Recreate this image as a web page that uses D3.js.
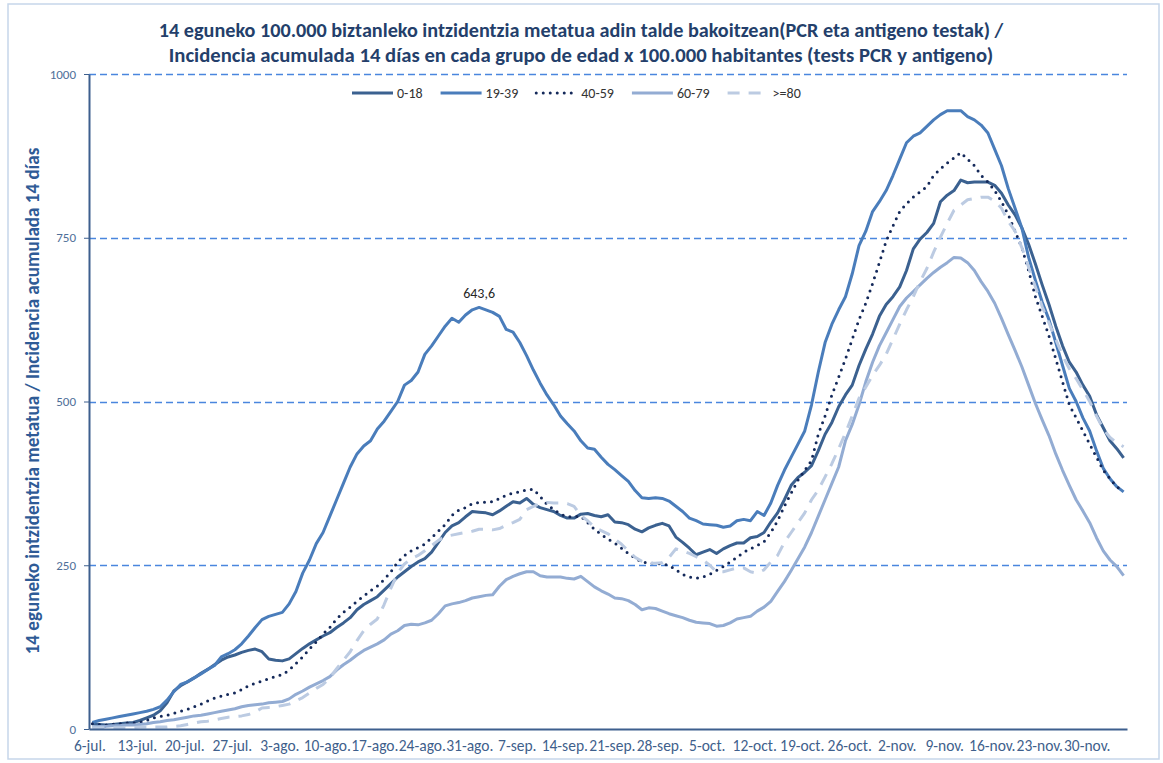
<!doctype html>
<html>
<head>
<meta charset="utf-8">
<title>intzidentzia metatua adin taldeka</title>
<script src="https://d3js.org/d3.v7.min.js"></script>
<style>
  body { margin: 0; background: #fff; }
  text { font-family: Calibri, Carlito, Lato, sans-serif; }
</style>
</head>
<body>
<svg></svg>
<script>

var w = 1163,
    h = 763;

var plot = { left: 89, right: 1127, top: 74, bottom: 729 };

// one point per day, 6 July 2020 .. 5 Dec 2020
var days = d3.timeDay.range(new Date(2020, 6, 6), new Date(2020, 11, 6));

var tickLabels = ['6-jul.', '13-jul.', '20-jul.', '27-jul.', '3-ago.', '10-ago.', '17-ago.',
    '24-ago.', '31-ago.', '7-sep.', '14-sep.', '21-sep.', '28-sep.', '5-oct.', '12-oct.',
    '19-oct.', '26-oct.', '2-nov.', '9-nov.', '16-nov.', '23-nov.', '30-nov.'];

var yTicks = [0, 250, 500, 750, 1000];

var age0_18 = [
    8, 7, 6, 7, 8, 9, 10, 13, 17, 21,
    28, 40, 58, 66, 72, 78, 85, 91, 98, 105,
    110, 113, 117, 120, 122, 118, 107, 105, 104, 107,
    115, 123, 130, 136, 142, 147, 155, 162, 170, 182,
    190, 196, 202, 212, 222, 232, 240, 248, 255, 260,
    270, 285, 300, 310, 315, 324, 332, 331, 330, 327,
    333, 340, 347, 345, 352, 343, 338, 335, 332, 326,
    322, 322, 328, 329, 326, 324, 327, 316, 315, 312,
    305, 301, 307, 311, 314, 310, 293, 285, 276, 266,
    270, 274, 268, 275, 280, 284, 284, 292, 294, 300,
    316, 330, 350, 372, 384, 392, 402, 425, 450, 468,
    492, 510, 525, 555, 580, 603, 630, 648, 660, 675,
    700, 733, 748, 758, 772, 805, 815, 822, 838, 834,
    835, 835, 835, 830, 818, 800, 785, 765, 740, 710,
    678, 648, 615, 585, 560, 545, 525, 508, 480, 460,
    440, 428, 414];

var age19_39 = [
    10, 13, 15, 17, 19, 21, 23, 25, 27, 30,
    34, 44, 57, 68, 72, 78, 84, 91, 97, 110,
    115, 121, 130, 142, 155, 167, 172, 175, 178, 191,
    210, 238, 258, 283, 300, 325, 350, 375, 400, 420,
    432, 440, 458, 470, 485, 500, 525, 532, 545, 572,
    585, 600, 615, 627, 621, 632, 640, 643.6, 640, 636,
    630, 610, 606, 590, 570, 548, 528, 510, 495, 478,
    466, 455, 440, 429, 427, 415, 404, 396, 387, 378,
    364, 353, 352, 353, 352, 348, 340, 332, 322, 318,
    313, 312, 311, 308, 310, 318, 320, 318, 332, 326,
    345, 372, 395, 415, 435, 455, 495, 545, 590, 618,
    640, 660, 695, 738, 760, 790, 805, 822, 845, 870,
    895, 905, 910, 920, 930, 938, 944, 944, 944, 935,
    930, 922, 910, 885, 860, 825, 795, 765, 720, 685,
    652, 625, 590, 555, 520, 500, 475, 455, 425, 398,
    382, 370, 362];

var age40_59 = [
    8, 7, 6, 7, 8, 9, 9, 10, 13, 17,
    19, 21, 24, 27, 30, 34, 38, 43, 47, 50,
    53, 55, 60, 66, 70, 73, 77, 80, 83, 90,
    100, 110, 122, 133, 145, 155, 168, 178, 186, 195,
    203, 211, 218, 228, 240, 255, 265, 272, 277, 282,
    292, 302, 312, 326, 334, 338, 344, 346, 346, 347,
    352, 357, 360, 362, 365, 366, 355, 343, 335, 328,
    324, 324, 325, 315, 305, 297, 290, 284, 276, 268,
    261, 255, 253, 253, 252, 250, 243, 236, 232, 230,
    232, 236, 242, 248, 255, 262, 270, 275, 280, 286,
    300, 318, 340, 360, 380, 395, 410, 450, 478, 510,
    537, 565, 595, 625, 650, 680, 712, 745, 768, 790,
    802, 812, 820, 828, 845, 855, 864, 872, 880, 870,
    860, 845, 835, 822, 805, 785, 760, 735, 700, 660,
    630, 600, 565, 530, 495, 475, 455, 435, 415, 395,
    382, 370, 362];

var age60_79 = [
    3, 4, 4, 5, 5, 6, 6, 7, 8, 10,
    11, 13, 14, 16, 18, 20, 21, 23, 25, 27,
    29, 31, 34, 36, 37, 38, 40, 41, 42, 46,
    53, 58, 64, 69, 74, 80, 90, 98, 105, 113,
    120, 125, 130, 136, 145, 150, 158, 160, 159, 162,
    166, 176, 188, 191, 193, 196, 200, 202, 204, 205,
    218, 228, 233, 237, 240, 240, 234, 232, 232, 232,
    230, 229, 233, 225, 217, 211, 206, 200, 199, 196,
    190, 182, 185, 184, 180, 176, 173, 170, 166, 163,
    162, 161, 157, 158, 162, 168, 170, 172, 180, 186,
    195, 210, 225, 242, 260, 278, 300, 325, 350, 375,
    400, 440, 465, 495, 530, 560, 585, 605, 625, 645,
    658, 668, 678, 688, 697, 705, 712, 720, 719, 712,
    700, 683, 668, 650, 627, 602, 578, 553, 525, 497,
    472, 448, 420, 395, 372, 350, 333, 315, 292, 272,
    258, 248, 234];

var age80 = [
    2, 2, 2, 2, 2, 2, 2, 3, 3, 3,
    3, 3, 4, 5, 7, 9, 11, 12, 14, 16,
    18, 19, 20, 22, 26, 32, 33, 34, 36, 38,
    43, 48, 55, 62, 68, 78, 92, 105, 118, 135,
    150, 160, 168, 190, 215, 238, 252, 260, 265, 272,
    280, 288, 294, 296, 298, 300, 302, 305, 305, 304,
    306, 311, 315, 320, 335, 340, 344, 346, 345, 345,
    344, 340, 326, 318, 308, 303, 298, 290, 282, 272,
    262, 256, 253, 253, 254, 262, 275, 272, 268, 263,
    258, 250, 240, 240, 243, 246, 246, 240, 238, 243,
    255, 265, 285, 300, 315, 330, 350, 365, 385, 405,
    428, 452, 478, 505, 522, 540, 555, 572, 595, 618,
    640, 660, 683, 703, 728, 751, 772, 792, 800, 808,
    810, 812, 812, 806, 795, 775, 760, 735, 705, 675,
    645, 620, 595, 570, 550, 535, 518, 500, 478, 458,
    445, 437, 431];

var seriesNames = ['0-18', '19-39', '40-59', '60-79', '>=80'];
var seriesValues = [age0_18, age19_39, age40_59, age60_79, age80];

var styles = [
    { color: '#3b6190', dash: null },
    { color: '#4a7dbb', dash: null },
    { color: '#14295a', dash: '0,7' },
    { color: '#93acd3', dash: null },
    { color: '#bccbe2', dash: '12,9' }
];

var xScale = d3.scalePoint()
    .domain(d3.range(days.length))
    .range([plot.left, plot.right])
    .padding(0.5);

var yScale = d3.scaleLinear()
    .domain([0, 1000])
    .range([plot.bottom, plot.top]);

var svg = d3.select('svg')
    .attr('width', w)
    .attr('height', h);

// outer chart border
svg.append('rect')
    .attr('x', 8).attr('y', 4)
    .attr('width', 1151).attr('height', 755)
    .attr('fill', 'none')
    .attr('stroke', '#c6d6ea')
    .attr('stroke-width', 1.5);

// horizontal dashed gridlines
svg.append('g')
    .selectAll('line')
    .data(yTicks.filter(function(d) { return d > 0; }))
    .enter()
    .append('line')
    .attr('x1', plot.left)
    .attr('x2', plot.right)
    .attr('y1', function(d) { return Math.round(yScale(d)) + 0.5; })
    .attr('y2', function(d) { return Math.round(yScale(d)) + 0.5; })
    .attr('stroke', '#4a86de')
    .attr('stroke-width', 1.3)
    .attr('stroke-dasharray', '7,4');

// series
var line = d3.line()
    .x(function(d, i) { return xScale(i); })
    .y(function(d) { return yScale(d); });

svg.append('g')
    .selectAll('path')
    .data(seriesValues)
    .enter()
    .append('path')
    .attr('d', line)
    .attr('fill', 'none')
    .attr('stroke', function(d, i) { return styles[i].color; })
    .attr('stroke-width', 3)
    .attr('stroke-linejoin', 'round')
    .attr('stroke-linecap', function(d, i) { return styles[i].dash === '0,7' ? 'round' : 'butt'; })
    .attr('stroke-dasharray', function(d, i) { return styles[i].dash; });

// axes
var yAxis = d3.axisLeft(yScale)
    .tickValues(yTicks)
    .tickFormat(d3.format('d'))
    .tickSize(5)
    .tickSizeOuter(0)
    .tickPadding(8);

var gy = svg.append('g')
    .attr('transform', 'translate(' + plot.left + ',0)')
    .call(yAxis);
gy.select('.domain').attr('stroke', '#3d5f8e').attr('stroke-width', 2);
gy.selectAll('.tick line').attr('stroke', '#3d5f8e');
gy.selectAll('.tick text')
    .attr('fill', '#4f6f99')
    .attr('font-size', 13)
    .style('font-family', 'Calibri, Carlito, Lato, sans-serif');

var xAxis = d3.axisBottom(xScale)
    .tickValues(d3.range(0, tickLabels.length * 7, 7))
    .tickFormat(function(d) { return tickLabels[d / 7]; })
    .tickSize(0)
    .tickSizeOuter(0)
    .tickPadding(11);

var gx = svg.append('g')
    .attr('transform', 'translate(0,' + plot.bottom + ')')
    .call(xAxis);
gx.select('.domain').attr('stroke', '#3d5f8e').attr('stroke-width', 2);
gx.selectAll('.tick text')
    .attr('fill', '#3f5f8c')
    .attr('font-size', 15.5)
    .attr('dx', -3)
    .style('font-family', 'Calibri, Carlito, Lato, sans-serif');

// label on the first-wave peak of 19-39
var peakIndex = d3.maxIndex(age19_39.slice(0, 100));
svg.append('text')
    .attr('x', xScale(peakIndex))
    .attr('y', yScale(age19_39[peakIndex]) - 9)
    .attr('text-anchor', 'middle')
    .attr('font-size', 14)
    .attr('fill', '#262626')
    .text(String(age19_39[peakIndex]).replace('.', ','));

function fitWidth(sel, width) {
    var len = sel.node().getComputedTextLength();
    var fs = parseFloat(sel.attr('font-size'));
    sel.attr('font-size', fs * width / len);
}

// title
var title1 = svg.append('text')
    .attr('x', 581).attr('y', 37)
    .attr('text-anchor', 'middle')
    .attr('font-size', 17)
    .attr('font-weight', 'bold')
    .attr('fill', '#243f6b')
    .text('14 eguneko 100.000 biztanleko intzidentzia metatua adin talde bakoitzean(PCR eta antigeno testak) /');
fitWidth(title1, 845);

var title2 = svg.append('text')
    .attr('x', 581).attr('y', 62)
    .attr('text-anchor', 'middle')
    .attr('font-size', 17)
    .attr('font-weight', 'bold')
    .attr('fill', '#243f6b')
    .text('Incidencia acumulada 14 días en cada grupo de edad x 100.000 habitantes (tests PCR y antigeno)');
fitWidth(title2, 825);

// y axis title
var ytitle = svg.append('text')
    .attr('transform', 'translate(39,401) rotate(-90)')
    .attr('text-anchor', 'middle')
    .attr('font-size', 16)
    .attr('font-weight', 'bold')
    .attr('fill', '#2f5b96')
    .text('14 eguneko intzidentzia metatua / Incidencia acumulada 14 días');
fitWidth(ytitle, 507);

// legend
var legend = svg.append('g')
    .attr('class', 'legend')
    .attr('transform', 'translate(352,93)');

var lx = 0;
seriesNames.forEach(function(name, i) {
    var item = legend.append('g').attr('transform', 'translate(' + lx + ',0)');
    item.append('line')
        .attr('x1', 0).attr('x2', 41)
        .attr('y1', 0).attr('y2', 0)
        .attr('stroke', styles[i].color)
        .attr('stroke-width', 3)
        .attr('stroke-linecap', styles[i].dash === '0,7' ? 'round' : 'butt')
        .attr('stroke-dasharray', styles[i].dash);
    var t = item.append('text')
        .attr('x', 45)
        .attr('y', 5)
        .attr('font-size', 14)
        .attr('fill', '#333')
        .text(name);
    lx += 45 + t.node().getComputedTextLength() + 18;
});

</script>
</body>
</html>
